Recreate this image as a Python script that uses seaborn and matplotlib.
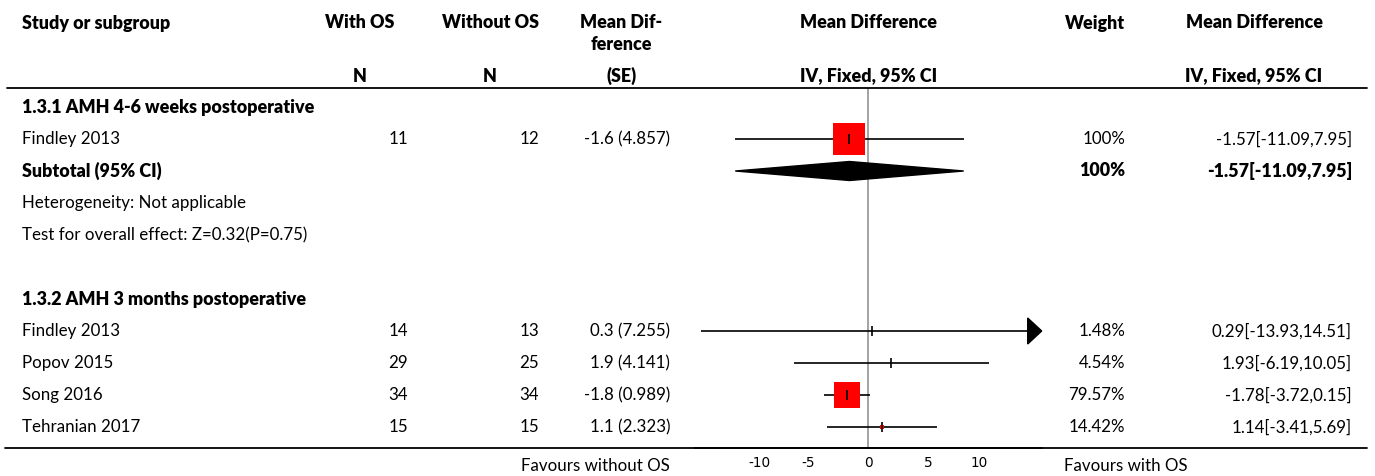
import numpy as np
import pandas as pd
import matplotlib
matplotlib.use("Agg")
import matplotlib.pyplot as plt
from matplotlib.patches import Polygon
from matplotlib.lines import Line2D
import matplotlib.transforms as mtransforms
import seaborn as sns

# ---------------- data ----------------
subgroup1_title = "1.3.1 AMH 4-6 weeks postoperative"
subgroup2_title = "1.3.2 AMH 3 months postoperative"
studies = ["Findley 2013", "Findley 2013", "Popov 2015", "Song 2016", "Tehranian 2017"]
subgroup = [1, 2, 2, 2, 2]
n_with = [11, 14, 29, 34, 15]
n_without = [12, 13, 25, 34, 15]
md_raw = [-1.6, 0.3, 1.9, -1.8, 1.1]
se_raw = [4.857, 7.255, 4.141, 0.989, 2.323]
estimate = [-1.57, 0.29, 1.93, -1.78, 1.14]
ci_low = [-11.09, -13.93, -6.19, -3.72, -3.41]
ci_high = [7.95, 14.51, 10.05, 0.15, 5.69]
weight = [100.0, 1.48, 4.54, 79.57, 14.42]
weight_labels = ["100%", "1.48%", "4.54%", "79.57%", "14.42%"]

subtotal_est = -1.57
subtotal_low = -11.09
subtotal_high = 7.95
subtotal_weight = "100%"
heterogeneity_text = "Heterogeneity: Not applicable"
overall_text = "Test for overall effect: Z=0.32(P=0.75)"
xticks = [-10, -5, 0, 5, 10]
favours_left = "Favours without OS"
favours_right = "Favours with OS"

# ---------------- layout ----------------
W, H = 1375, 476
sns.set_style("white")
plt.rcParams["font.family"] = ["Lato", "DejaVu Sans"]
FS = 12.2
FSB = 12.9
BOLD = "heavy"

fig = plt.figure(figsize=(W / 100, H / 100), dpi=100)
x0_px = 868.3
px_per_unit = 12.0
xmin, xmax = -14.45, 14.45
ax_left = x0_px + xmin * px_per_unit
ax_right = x0_px + xmax * px_per_unit
row0_px, row_step = 107.0, 32.0
top_px, bot_px = 88.0, 448.0
ax = fig.add_axes([ax_left / W, 1 - bot_px / H, (ax_right - ax_left) / W, (bot_px - top_px) / H])
ax.set_xlim(xmin, xmax)
ax.set_ylim((bot_px - row0_px) / row_step, (top_px - row0_px) / row_step)
ax.set_facecolor("none")

study_rows = [1, 7, 8, 9, 10]
df = pd.DataFrame({
    "study": studies, "row": study_rows, "est": estimate,
    "lo": ci_low, "hi": ci_high, "weight": weight,
})

# zero line
ax.axvline(0, color="#8a8a8a", lw=1.1, zorder=1)

# CI lines
ax.hlines(df["row"], df["lo"], np.minimum(df["hi"], xmax), color="black", lw=1.2, zorder=2)

# squares (side proportional to weight within subgroup)
side_px = 32 * df["weight"] / 100.0
size_map = {w: (s * 0.72) ** 2 for w, s in zip(df["weight"], side_px)}
sns.scatterplot(data=df, x="est", y="row", size="weight", sizes=size_map, marker="s",
                color="#ff0000", linewidth=0, legend=False, ax=ax, zorder=3)
ax.plot(df["est"], df["row"], ls="none", marker="|", ms=7, mew=1.2, color="black", zorder=4)

# arrows for CIs beyond axis
arrow_w = 14 / px_per_unit
arrow_h = 13 / row_step
for r, lo, hi in zip(df["row"], df["lo"], df["hi"]):
    if hi > xmax:
        ax.add_patch(Polygon([[xmax - arrow_w, r - arrow_h], [xmax, r], [xmax - arrow_w, r + arrow_h]],
                             closed=True, color="black", zorder=5, clip_on=False))
    if lo < xmin:
        ax.add_patch(Polygon([[xmin + arrow_w, r - arrow_h], [xmin, r], [xmin + arrow_w, r + arrow_h]],
                             closed=True, color="black", zorder=5, clip_on=False))

# subtotal diamond
dh = 9.5 / row_step
ax.add_patch(Polygon([[subtotal_low, 2], [subtotal_est, 2 - dh], [subtotal_high, 2], [subtotal_est, 2 + dh]],
                     closed=True, color="black", zorder=3))

# axis styling
for s in ["top", "left", "right"]:
    ax.spines[s].set_visible(False)
ax.spines["bottom"].set_linewidth(1.3)
ax.spines["bottom"].set_color("black")
ax.set_yticks([])
ax.set_xticks(xticks)
ax.set_xticklabels([str(t) for t in xticks])
ax.tick_params(axis="x", direction="in", length=3.6, width=1, pad=6, labelsize=9.8,
               labelfontfamily="DejaVu Sans", colors="black")
tl = ax.get_xticklabels()
tl[0].set_horizontalalignment("left")
tl[-1].set_horizontalalignment("right")
ax.set_xlabel("")
ax.set_ylabel("")

# ---------------- text ----------------
tr = mtransforms.blended_transform_factory(fig.transFigure, ax.transData)


def rowtext(x_px, row, s, ha="left", bold=False):
    ax.text(x_px / W, row, s, transform=tr, ha=ha, va="center", fontsize=FSB if bold else FS,
            fontweight=BOLD if bold else "normal", color="black", clip_on=False)


def headtext(x_px, y_px, s, ha="center"):
    fig.text(x_px / W, 1 - y_px / H, s, ha=ha, va="center", fontsize=FSB, fontweight=BOLD, color="black")


headtext(22, 23, "Study or subgroup", ha="left")
headtext(359.5, 23, "With OS")
headtext(359.5, 76, "N")
headtext(490, 23, "Without OS")
headtext(490, 76, "N")
headtext(621.5, 23, "Mean Dif-")
headtext(621.5, 45, "ference")
headtext(621.5, 76, "(SE)")
headtext(869, 23, "Mean Difference")
headtext(869, 76, "IV, Fixed, 95% CI")
headtext(1095, 23, "Weight")
headtext(1254, 23, "Mean Difference")
headtext(1254, 76, "IV, Fixed, 95% CI")

rowtext(22, 0, subgroup1_title, bold=True)
rowtext(22, 6, subgroup2_title, bold=True)
for i in range(len(studies)):
    r = study_rows[i]
    rowtext(22, r, studies[i])
    rowtext(408, r, str(n_with[i]), ha="right")
    rowtext(539, r, str(n_without[i]), ha="right")
    rowtext(670, r, f"{md_raw[i]} ({se_raw[i]})", ha="right")
    rowtext(1125, r, weight_labels[i], ha="right")
    rowtext(1352, r, f"{estimate[i]}[{ci_low[i]},{ci_high[i]}]", ha="right")

rowtext(22, 2, "Subtotal (95% CI)", bold=True)
rowtext(1125, 2, subtotal_weight, ha="right", bold=True)
rowtext(1352, 2, f"{subtotal_est}[{subtotal_low},{subtotal_high}]", ha="right", bold=True)
rowtext(22, 3, heterogeneity_text)
rowtext(22, 4, overall_text)

fig.text(670 / W, 1 - 466 / H, favours_left, ha="right", va="center", fontsize=FS, color="black")
fig.text(1064 / W, 1 - 466 / H, favours_right, ha="left", va="center", fontsize=FS, color="black")

# rules
fig.add_artist(Line2D([7 / W, 1367 / W], [1 - 88 / H, 1 - 88 / H], color="black", lw=1.3))
fig.add_artist(Line2D([5 / W, 1367 / W], [1 - 448 / H, 1 - 448 / H], color="black", lw=1.3))

fig.savefig("out.png", dpi=100)
